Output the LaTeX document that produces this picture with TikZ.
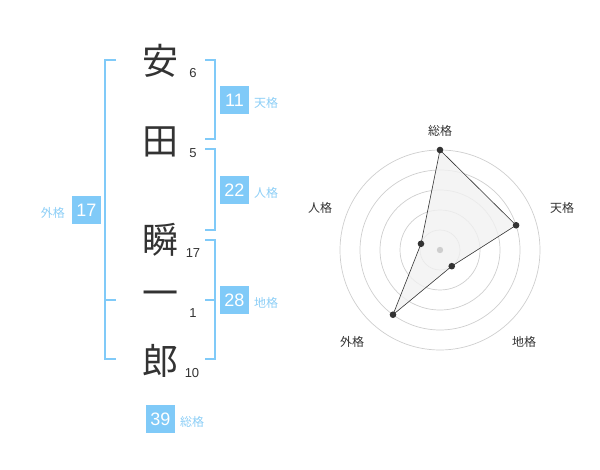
\documentclass[tikz,border=0pt]{standalone}
\usepackage{fontspec}
\setmainfont{Liberation Sans}
\newfontfamily\jpfont{Noto Sans CJK JP}
\usetikzlibrary{positioning}
\definecolor{kakublue}{RGB}{128,202,248}
\definecolor{kakutext}{RGB}{140,206,246}
\definecolor{inkgray}{RGB}{51,51,51}
\definecolor{ringgray}{RGB}{206,206,206}
\definecolor{fillgray}{RGB}{241,241,241}
\edef\boxsize{28.5pt}
\tikzstyle{kanji}=[font=\jpfont\fontsize{36}{36}\selectfont, text=inkgray, inner sep=0pt]
\tikzstyle{strokes}=[font=\fontsize{13}{13}\selectfont, text=inkgray, inner sep=0pt]
\tikzstyle{kakubox}=[fill=kakublue, text=white, font=\fontsize{18}{18}\selectfont, minimum size=\boxsize, inner sep=0pt]
\tikzstyle{kakuname}=[font=\jpfont\fontsize{12}{12}\selectfont, text=kakutext, inner sep=0pt]
\tikzstyle{bracket}=[draw=kakublue, line width=1.6pt]
\tikzstyle{axisname}=[font=\jpfont\fontsize{12}{12}\selectfont, text=inkgray, inner sep=0pt]

\begin{document}
\begin{tikzpicture}[x=1pt, y=-1pt]
	\useasboundingbox (0,0) rectangle (600,470);
	
	% name
	\node[kanji] (c1) at (160,61) {安};
	\node[kanji] (c2) at (160,142) {田};
	\node[kanji] (c3) at (160,240) {瞬};
	\node[kanji] (c4) at (160,299) {一};
	\node[kanji] (c5) at (160,361) {郎};
	\node[strokes] (n1) at (193,73) {6};
	\node[strokes] (n2) at (193,153) {5};
	\node[strokes] (n3) at (193,253) {17};
	\node[strokes] (n4) at (193,313) {1};
	\node[strokes] (n5) at (192,373) {10};
	
	% brackets
	\draw[bracket] (116,60) -- (105,60) -- (105,359) -- (116,359);
	\draw[bracket] (105,300) -- (116,300);
	\draw[bracket] (205,60) -- (215,60) -- (215,139) -- (205,139);
	\draw[bracket] (205,149) -- (215,149) -- (215,230) -- (205,230);
	\draw[bracket] (205,240) -- (215,240) -- (215,359) -- (205,359);
	\draw[bracket] (205,300) -- (215,300);
	
	% boxes
	\node[kakubox] (ten) at (234.5,100) {11};
	\node[kakubox] (jin) at (234.5,190) {22};
	\node[kakubox] (chi) at (234.5,300) {28};
	\node[kakubox] (gai) at (86.5,210) {17};
	\node[kakubox] (sou) at (160.5,419) {39};
	\node[kakuname, right=5pt of ten, yshift=-3pt] {天格};
	\node[kakuname, right=5pt of jin, yshift=-3pt] {人格};
	\node[kakuname, right=5pt of chi, yshift=-3pt] {地格};
	\node[kakuname, left=7pt of gai, yshift=-3pt] {外格};
	\node[kakuname, right=5pt of sou, yshift=-3pt] {総格};
	
	% radar
	\begin{scope}[shift={(440,250)}, yscale=-1]
	\foreach \r in {20,40,...,100}
		\draw[ringgray, line width=0.7pt] (0,0) circle (\r);
	\coordinate (s1) at (90:100);
	\coordinate (s2) at (18:80);
	\coordinate (s3) at (-54:20);
	\coordinate (s4) at (-126:80);
	\coordinate (s5) at (162:20);
	\filldraw[fill=fillgray, fill opacity=0.8, draw=inkgray, line width=0.6pt] (s1) -- (s2) -- (s3) -- (s4) -- (s5) -- cycle;
	\fill[ringgray] (0,0) circle (3.2);
	\foreach \p in {s1,s2,s3,s4,s5}
		\fill[inkgray] (\p) circle (3.3);
	\end{scope}
	\node[axisname] (a1) at (440,131) {総格};
	\node[axisname] (a2) at (562,208) {天格};
	\node[axisname] (a3) at (524,342) {地格};
	\node[axisname] (a4) at (352,342) {外格};
	\node[axisname] (a5) at (320,208) {人格};
\end{tikzpicture}
\end{document}
